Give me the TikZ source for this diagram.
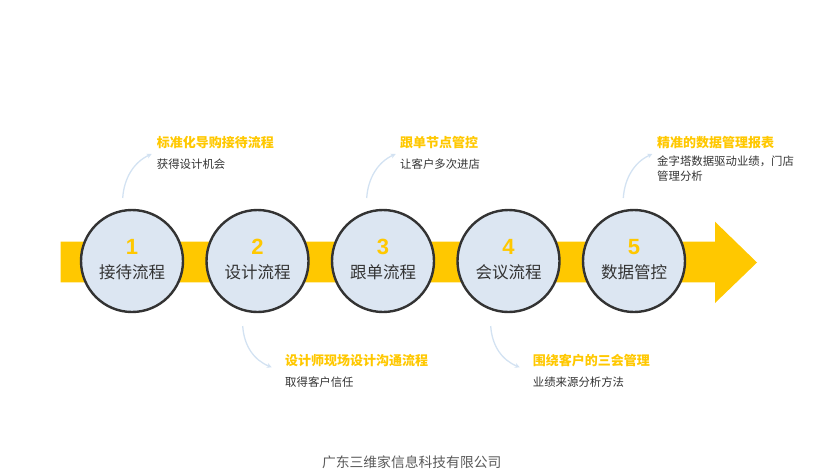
\documentclass[tikz,border=0pt]{standalone}
\usepackage{fontspec}
\setmainfont{Liberation Sans}
\newfontfamily\cjk{Noto Sans CJK SC}
\usetikzlibrary{arrows.meta}
\definecolor{bandyellow}{HTML}{FFC800}
\definecolor{discfill}{HTML}{DCE6F2}
\definecolor{discline}{HTML}{333333}
\definecolor{hookblue}{HTML}{D3E2F2}
\definecolor{subgray}{HTML}{333333}
\definecolor{footgray}{HTML}{595959}

\begin{document}
\begin{tikzpicture}[x=1pt, y=-1pt,
		disc/.style={circle, draw=discline, line width=2.4pt, fill=discfill, minimum size=102pt, inner sep=0pt},
		num/.style={text=bandyellow, font=\fontsize{22}{22}\selectfont\bfseries, inner sep=0pt},
		steplabel/.style={text=discline, font=\cjk\fontsize{16.5}{16.5}\selectfont, inner sep=0pt},
		headtext/.style={anchor=west, text=bandyellow, font=\cjk\fontsize{13}{13}\selectfont\bfseries, inner sep=0pt},
		subtext/.style={anchor=west, text=subgray, font=\cjk\fontsize{11.4}{15}\selectfont, inner sep=0pt},
		hook/.style={draw=hookblue, line width=1.3pt, -{Stealth[length=5pt, width=5pt]}}]
			%%%%% START %%%%%
			\useasboundingbox (0, 0) rectangle (830, 474);
			
			% yellow band with head
			\fill[bandyellow] (60.7, 241.7) -- (715, 241.7) -- (715, 221.7) -- (757, 262.5)
				-- (715, 303) -- (715, 282.3) -- (60.7, 282.3) -- cycle;
			
			% the five discs
			\node[disc] (d1) at (132, 261) {};
			\node[disc] (d2) at (257.5, 261) {};
			\node[disc] (d3) at (383, 261) {};
			\node[disc] (d4) at (508.5, 261) {};
			\node[disc] (d5) at (634, 261) {};
			
			\node[num] (n1) at (132, 247) {1};
			\node[num] (n2) at (257.5, 247) {2};
			\node[num] (n3) at (383, 247) {3};
			\node[num] (n4) at (508.5, 247) {4};
			\node[num] (n5) at (634, 247) {5};
			
			\node[steplabel] (l1) at (132, 272) {接待流程};
			\node[steplabel] (l2) at (257.5, 272) {设计流程};
			\node[steplabel] (l3) at (383, 272) {跟单流程};
			\node[steplabel] (l4) at (508.5, 272) {会议流程};
			\node[steplabel] (l5) at (634, 272) {数据管控};
			
			% captions above
			\node[headtext] (h1) at (156.7, 142.7) {标准化导购接待流程};
			\node[subtext] (s1) at (156.7, 164) {获得设计机会};
			\node[headtext] (h3) at (400, 142.7) {跟单节点管控};
			\node[subtext] (s3) at (400, 164) {让客户多次进店};
			\node[headtext] (h5) at (657, 142.7) {精准的数据管理报表};
			\node[subtext, align=left, anchor=north west] (s5) at (657, 156) {金字塔数据驱动业绩，门店\\管理分析};
			
			% captions below
			\node[headtext] (h2) at (285, 360.7) {设计师现场设计沟通流程};
			\node[subtext] (s2) at (285, 381.7) {取得客户信任};
			\node[headtext] (h4) at (532.7, 360.7) {围绕客户的三会管理};
			\node[subtext] (s4) at (532.7, 381.7) {业绩来源分析方法};
			
			% hooks
			\coordinate (a1) at (122.7, 198);
			\coordinate (b1) at (151.7, 154);
			\coordinate (a3) at (366.7, 198);
			\coordinate (b3) at (395.7, 154);
			\coordinate (a5) at (623.3, 198);
			\coordinate (b5) at (652.3, 154);
			\coordinate (a2) at (242.7, 326);
			\coordinate (b2) at (271.7, 367.3);
			\coordinate (a4) at (490.7, 326);
			\coordinate (b4) at (519.7, 367.3);
			\draw[hook] (a1) .. controls (124, 178) and (134, 162) .. (b1);
			\draw[hook] (a3) .. controls (368, 178) and (378, 162) .. (b3);
			\draw[hook] (a5) .. controls (624.6, 178) and (634.6, 162) .. (b5);
			\draw[hook] (a2) .. controls (244, 346) and (254, 360) .. (b2);
			\draw[hook] (a4) .. controls (492, 346) and (502, 360) .. (b4);
			
			\node[text=footgray, font=\cjk\fontsize{13.8}{13.8}\selectfont, inner sep=0pt] (foot) at (411.7, 462.3) {广东三维家信息科技有限公司};
			%%%%% END %%%%%
		\end{tikzpicture}
\end{document}
